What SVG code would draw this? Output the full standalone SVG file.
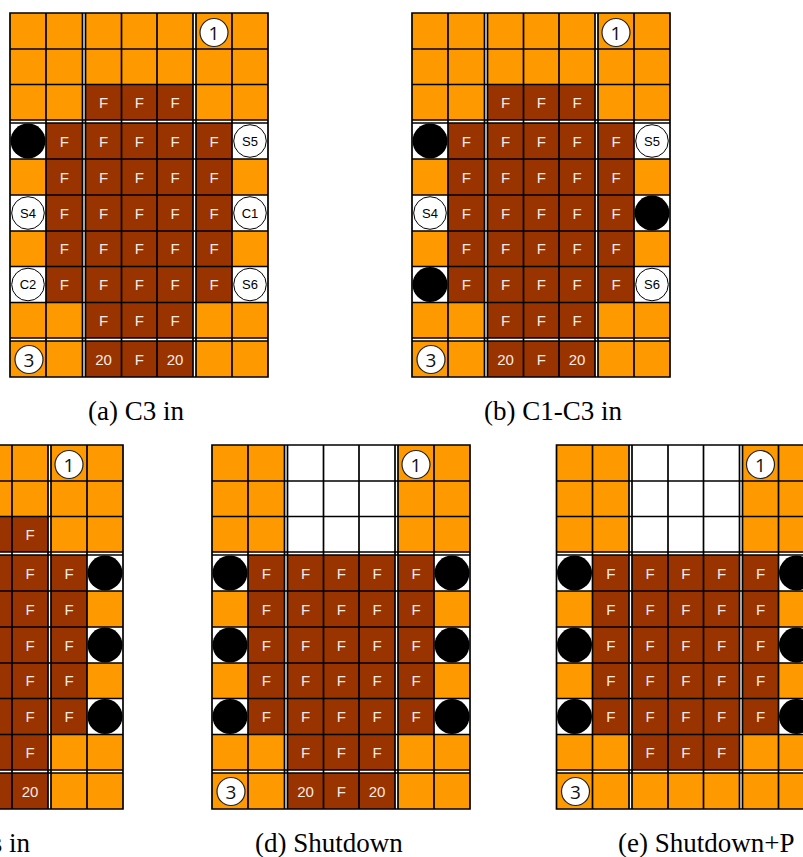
<svg xmlns="http://www.w3.org/2000/svg" xmlns:xlink="http://www.w3.org/1999/xlink" width="803" height="857" viewBox="0 0 803 857">
<style>
.or{fill:#ff9900}
.br{fill:#993300}
.wh{fill:#ffffff}
.ln{fill:none;stroke:#000;stroke-width:1.7;stroke-linecap:square}
.blk{fill:#000}
.lab{fill:#fff;stroke:#000;stroke-width:1}
.num{fill:#fff;stroke:#222;stroke-width:1.2}
.f{font-family:"Liberation Sans",Arial,sans-serif;font-size:15px;fill:#f7ebe4;text-anchor:middle}
.s{font-family:"Liberation Sans",Arial,sans-serif;font-size:13px;fill:#000;text-anchor:middle}
.n{font-family:"Open Sans","DejaVu Sans",sans-serif;font-size:19px;fill:#111;text-anchor:middle}
.cap{font-family:"Liberation Serif","Times New Roman",serif;font-size:27px;fill:#000}
</style>
<defs>
<path id="grid" class="ln" d="M0 0V364M36 0V364M72.5 0V364M75.5 0V364M111.5 0V364M147 0V364M183 0V364M186 0V364M222 0V364M258 0V364M0 0H258M0 36H258M0 71.5H258M0 107H258M0 110H258M0 146H258M0 182H258M0 218H258M0 253.5H258M0 289.5H258M0 325H258M0 328H258M0 364H258"/>
<g id="gaps" class="wh"><rect x="72.5" y="0" width="3" height="364"/><rect x="183" y="0" width="3" height="364"/><rect x="0" y="107" width="258" height="3"/><rect x="0" y="325" width="258" height="3"/></g>
<g id="sidecells" class="wh"><rect x="0" y="110" width="36" height="36"/><rect x="222" y="110" width="36" height="36"/><rect x="0" y="182" width="36" height="36"/><rect x="222" y="182" width="36" height="36"/><rect x="0" y="253.5" width="36" height="36"/><rect x="222" y="253.5" width="36" height="36"/></g>
</defs>

<g id="panel-a" transform="translate(10,13)">
<rect class="or" x="0" y="0" width="258" height="364"/>
<rect class="br" x="75.5" y="71.5" width="107.5" height="292.5"/>
<rect class="br" x="36" y="110" width="186" height="179.5"/>
<use href="#sidecells"/>
<use href="#gaps"/>
<use href="#grid"/>
<circle class="blk" cx="18" cy="128" r="17.5"/>
<g id="a-S5"><circle class="lab" cx="240" cy="128" r="16.3"/><text class="s" x="240" y="132.5">S5</text></g>
<g id="a-S4"><circle class="lab" cx="18" cy="200" r="16.3"/><text class="s" x="18" y="204.5">S4</text></g>
<g id="a-C1"><circle class="lab" cx="240" cy="200" r="16.3"/><text class="s" x="240" y="204.5">C1</text></g>
<g id="a-C2"><circle class="lab" cx="18" cy="271.5" r="16.3"/><text class="s" x="18" y="276">C2</text></g>
<g id="a-S6"><circle class="lab" cx="240" cy="271.5" r="16.3"/><text class="s" x="240" y="276">S6</text></g>
<g id="a-1"><circle class="num" cx="204" cy="19.5" r="14"/><text class="n" x="204" y="26.5">1</text></g>
<g id="a-3"><circle class="num" cx="19" cy="346.5" r="14"/><text class="n" x="19" y="353.5">3</text></g>
<g id="a-F">
<text class="f" x="93.5" y="95">F</text><text class="f" x="129.25" y="95">F</text><text class="f" x="165" y="95">F</text>
<text class="f" x="54.25" y="133.5">F</text><text class="f" x="93.5" y="133.5">F</text><text class="f" x="129.25" y="133.5">F</text><text class="f" x="165" y="133.5">F</text><text class="f" x="204" y="133.5">F</text>
<text class="f" x="54.25" y="169.5">F</text><text class="f" x="93.5" y="169.5">F</text><text class="f" x="129.25" y="169.5">F</text><text class="f" x="165" y="169.5">F</text><text class="f" x="204" y="169.5">F</text>
<text class="f" x="54.25" y="205.5">F</text><text class="f" x="93.5" y="205.5">F</text><text class="f" x="129.25" y="205.5">F</text><text class="f" x="165" y="205.5">F</text><text class="f" x="204" y="205.5">F</text>
<text class="f" x="54.25" y="241.3">F</text><text class="f" x="93.5" y="241.3">F</text><text class="f" x="129.25" y="241.3">F</text><text class="f" x="165" y="241.3">F</text><text class="f" x="204" y="241.3">F</text>
<text class="f" x="54.25" y="277">F</text><text class="f" x="93.5" y="277">F</text><text class="f" x="129.25" y="277">F</text><text class="f" x="165" y="277">F</text><text class="f" x="204" y="277">F</text>
<text class="f" x="93.5" y="312.8">F</text><text class="f" x="129.25" y="312.8">F</text><text class="f" x="165" y="312.8">F</text>
<text class="f" x="93.5" y="351.5">20</text><text class="f" x="129.25" y="351.5">F</text><text class="f" x="165" y="351.5">20</text>
</g>
</g>

<g id="panel-b" transform="translate(412,13)">
<rect class="or" x="0" y="0" width="258" height="364"/>
<rect class="br" x="75.5" y="71.5" width="107.5" height="292.5"/>
<rect class="br" x="36" y="110" width="186" height="179.5"/>
<use href="#sidecells"/>
<use href="#gaps"/>
<use href="#grid"/>
<circle class="blk" cx="18" cy="128" r="17.5"/>
<circle class="blk" cx="240" cy="200" r="17.5"/>
<circle class="blk" cx="18" cy="271.5" r="17.5"/>
<g id="b-S5"><circle class="lab" cx="240" cy="128" r="16.3"/><text class="s" x="240" y="132.5">S5</text></g>
<g id="b-S4"><circle class="lab" cx="18" cy="200" r="16.3"/><text class="s" x="18" y="204.5">S4</text></g>
<g id="b-S6"><circle class="lab" cx="240" cy="271.5" r="16.3"/><text class="s" x="240" y="276">S6</text></g>
<g id="b-1"><circle class="num" cx="204" cy="19.5" r="14"/><text class="n" x="204" y="26.5">1</text></g>
<g id="b-3"><circle class="num" cx="19" cy="346.5" r="14"/><text class="n" x="19" y="353.5">3</text></g>
<g id="b-F">
<text class="f" x="93.5" y="95">F</text><text class="f" x="129.25" y="95">F</text><text class="f" x="165" y="95">F</text>
<text class="f" x="54.25" y="133.5">F</text><text class="f" x="93.5" y="133.5">F</text><text class="f" x="129.25" y="133.5">F</text><text class="f" x="165" y="133.5">F</text><text class="f" x="204" y="133.5">F</text>
<text class="f" x="54.25" y="169.5">F</text><text class="f" x="93.5" y="169.5">F</text><text class="f" x="129.25" y="169.5">F</text><text class="f" x="165" y="169.5">F</text><text class="f" x="204" y="169.5">F</text>
<text class="f" x="54.25" y="205.5">F</text><text class="f" x="93.5" y="205.5">F</text><text class="f" x="129.25" y="205.5">F</text><text class="f" x="165" y="205.5">F</text><text class="f" x="204" y="205.5">F</text>
<text class="f" x="54.25" y="241.3">F</text><text class="f" x="93.5" y="241.3">F</text><text class="f" x="129.25" y="241.3">F</text><text class="f" x="165" y="241.3">F</text><text class="f" x="204" y="241.3">F</text>
<text class="f" x="54.25" y="277">F</text><text class="f" x="93.5" y="277">F</text><text class="f" x="129.25" y="277">F</text><text class="f" x="165" y="277">F</text><text class="f" x="204" y="277">F</text>
<text class="f" x="93.5" y="312.8">F</text><text class="f" x="129.25" y="312.8">F</text><text class="f" x="165" y="312.8">F</text>
<text class="f" x="93.5" y="351.5">20</text><text class="f" x="129.25" y="351.5">F</text><text class="f" x="165" y="351.5">20</text>
</g>
</g>

<g id="panel-c" transform="translate(-135,445)">
<rect class="or" x="0" y="0" width="258" height="364"/>
<rect class="br" x="75.5" y="71.5" width="107.5" height="292.5"/>
<rect class="br" x="36" y="110" width="186" height="179.5"/>
<use href="#sidecells"/>
<use href="#gaps"/>
<use href="#grid"/>
<circle class="blk" cx="240" cy="128" r="17.5"/>
<circle class="blk" cx="240" cy="200" r="17.5"/>
<circle class="blk" cx="240" cy="271.5" r="17.5"/>
<g id="c-1"><circle class="num" cx="204" cy="19.5" r="14"/><text class="n" x="204" y="26.5">1</text></g>
<g id="c-F">
<text class="f" x="165" y="95">F</text>
<text class="f" x="165" y="133.5">F</text><text class="f" x="204" y="133.5">F</text>
<text class="f" x="165" y="169.5">F</text><text class="f" x="204" y="169.5">F</text>
<text class="f" x="165" y="205.5">F</text><text class="f" x="204" y="205.5">F</text>
<text class="f" x="165" y="241.3">F</text><text class="f" x="204" y="241.3">F</text>
<text class="f" x="165" y="277">F</text><text class="f" x="204" y="277">F</text>
<text class="f" x="165" y="312.8">F</text>
<text class="f" x="165" y="351.5">20</text>
</g>
</g>

<g id="panel-d" transform="translate(212,445)">
<rect class="or" x="0" y="0" width="258" height="364"/>
<rect class="wh" x="75.5" y="0" width="107.5" height="107"/>
<rect class="br" x="36" y="110" width="186" height="179.5"/>
<rect class="br" x="75.5" y="289.5" width="107.5" height="74.5"/>
<use href="#sidecells"/>
<use href="#gaps"/>
<use href="#grid"/>
<circle class="blk" cx="18" cy="128" r="17.5"/>
<circle class="blk" cx="240" cy="128" r="17.5"/>
<circle class="blk" cx="18" cy="200" r="17.5"/>
<circle class="blk" cx="240" cy="200" r="17.5"/>
<circle class="blk" cx="18" cy="271.5" r="17.5"/>
<circle class="blk" cx="240" cy="271.5" r="17.5"/>
<g id="d-1"><circle class="num" cx="204" cy="19.5" r="14"/><text class="n" x="204" y="26.5">1</text></g>
<g id="d-3"><circle class="num" cx="19" cy="346.5" r="14"/><text class="n" x="19" y="353.5">3</text></g>
<g id="d-F">
<text class="f" x="54.25" y="133.5">F</text><text class="f" x="93.5" y="133.5">F</text><text class="f" x="129.25" y="133.5">F</text><text class="f" x="165" y="133.5">F</text><text class="f" x="204" y="133.5">F</text>
<text class="f" x="54.25" y="169.5">F</text><text class="f" x="93.5" y="169.5">F</text><text class="f" x="129.25" y="169.5">F</text><text class="f" x="165" y="169.5">F</text><text class="f" x="204" y="169.5">F</text>
<text class="f" x="54.25" y="205.5">F</text><text class="f" x="93.5" y="205.5">F</text><text class="f" x="129.25" y="205.5">F</text><text class="f" x="165" y="205.5">F</text><text class="f" x="204" y="205.5">F</text>
<text class="f" x="54.25" y="241.3">F</text><text class="f" x="93.5" y="241.3">F</text><text class="f" x="129.25" y="241.3">F</text><text class="f" x="165" y="241.3">F</text><text class="f" x="204" y="241.3">F</text>
<text class="f" x="54.25" y="277">F</text><text class="f" x="93.5" y="277">F</text><text class="f" x="129.25" y="277">F</text><text class="f" x="165" y="277">F</text><text class="f" x="204" y="277">F</text>
<text class="f" x="93.5" y="312.8">F</text><text class="f" x="129.25" y="312.8">F</text><text class="f" x="165" y="312.8">F</text>
<text class="f" x="93.5" y="351.5">20</text><text class="f" x="129.25" y="351.5">F</text><text class="f" x="165" y="351.5">20</text>
</g>
</g>

<g id="panel-e" transform="translate(556.5,445)">
<rect class="or" x="0" y="0" width="258" height="364"/>
<rect class="wh" x="75.5" y="0" width="107.5" height="107"/>
<rect class="br" x="36" y="110" width="186" height="179.5"/>
<rect class="br" x="75.5" y="289.5" width="107.5" height="35.5"/>
<use href="#sidecells"/>
<use href="#gaps"/>
<use href="#grid"/>
<circle class="blk" cx="18" cy="128" r="17.5"/>
<circle class="blk" cx="240" cy="128" r="17.5"/>
<circle class="blk" cx="18" cy="200" r="17.5"/>
<circle class="blk" cx="240" cy="200" r="17.5"/>
<circle class="blk" cx="18" cy="271.5" r="17.5"/>
<circle class="blk" cx="240" cy="271.5" r="17.5"/>
<g id="e-1"><circle class="num" cx="204" cy="19.5" r="14"/><text class="n" x="204" y="26.5">1</text></g>
<g id="e-3"><circle class="num" cx="19" cy="346.5" r="14"/><text class="n" x="19" y="353.5">3</text></g>
<g id="e-F">
<text class="f" x="54.25" y="133.5">F</text><text class="f" x="93.5" y="133.5">F</text><text class="f" x="129.25" y="133.5">F</text><text class="f" x="165" y="133.5">F</text><text class="f" x="204" y="133.5">F</text>
<text class="f" x="54.25" y="169.5">F</text><text class="f" x="93.5" y="169.5">F</text><text class="f" x="129.25" y="169.5">F</text><text class="f" x="165" y="169.5">F</text><text class="f" x="204" y="169.5">F</text>
<text class="f" x="54.25" y="205.5">F</text><text class="f" x="93.5" y="205.5">F</text><text class="f" x="129.25" y="205.5">F</text><text class="f" x="165" y="205.5">F</text><text class="f" x="204" y="205.5">F</text>
<text class="f" x="54.25" y="241.3">F</text><text class="f" x="93.5" y="241.3">F</text><text class="f" x="129.25" y="241.3">F</text><text class="f" x="165" y="241.3">F</text><text class="f" x="204" y="241.3">F</text>
<text class="f" x="54.25" y="277">F</text><text class="f" x="93.5" y="277">F</text><text class="f" x="129.25" y="277">F</text><text class="f" x="165" y="277">F</text><text class="f" x="204" y="277">F</text>
<text class="f" x="93.5" y="312.8">F</text><text class="f" x="129.25" y="312.8">F</text><text class="f" x="165" y="312.8">F</text>
</g>
</g>

<g id="captions">
<text class="cap" x="88" y="420">(a) C3 in</text>
<text class="cap" x="484" y="420">(b) C1-C3 in</text>
<text class="cap" x="30" y="852" text-anchor="end">s in</text>
<text class="cap" x="255" y="852">(d) Shutdown</text>
<text class="cap" x="618" y="852">(e) Shutdown+P</text>
</g>
</svg>
